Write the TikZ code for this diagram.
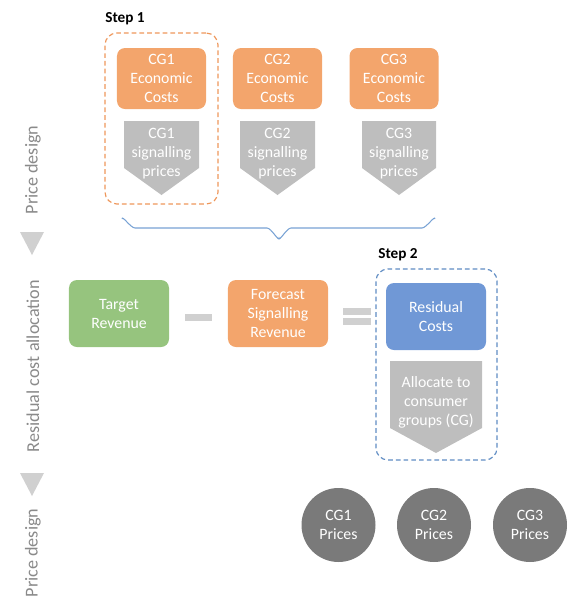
\documentclass[tikz,border=0pt]{standalone}
\usepackage{fontspec}
\setmainfont{Carlito}
\usepackage{xcolor}
\usepackage{tikz}
\usetikzlibrary{positioning,calc,backgrounds}
\pgfdeclarelayer{edgelayer}
\pgfdeclarelayer{nodelayer}
\pgfsetlayers{background,edgelayer,nodelayer,main}
\definecolor{cgorange}{RGB}{243,165,108}
\definecolor{cgframe}{RGB}{238,150,90}
\definecolor{cggreen}{RGB}{150,196,126}
\definecolor{cgblue}{RGB}{112,152,214}
\definecolor{cgbframe}{RGB}{95,140,195}
\definecolor{cgbrace}{RGB}{120,162,212}
\definecolor{sigray}{RGB}{190,190,190}
\definecolor{trigray}{RGB}{208,208,208}
\definecolor{opgray}{RGB}{208,208,208}
\definecolor{dotgray}{RGB}{122,122,122}
\definecolor{stagegray}{RGB}{138,138,138}
\newcommand{\cgfont}{\fontsize{13.5}{16.2}\selectfont}
\newcommand{\cgstagefont}{\fontsize{15.5}{18}\selectfont}
\newcommand{\cgstepfont}{\fontsize{13}{16}\selectfont\bfseries}
\tikzstyle{none}=[inner sep=0mm]
\tikzstyle{box}=[shape=rectangle,rounded corners=0.24cm,minimum width=3.0cm,minimum height=2.01cm,inner sep=0pt,align=center,text=white,font=\cgfont]
\tikzstyle{cost box}=[box,fill=cgorange,minimum width=2.67cm,minimum height=1.83cm]
\tikzstyle{target box}=[box,fill=cggreen]
\tikzstyle{forecast box}=[box,fill=cgorange]
\tikzstyle{residual box}=[box,fill=cgblue]
\tikzstyle{signal text}=[inner sep=0pt,align=center,text=white,font=\cgfont]
\tikzstyle{signal fill}=[fill=sigray]
\tikzstyle{price dot}=[shape=circle,fill=dotgray,minimum size=2.22cm,inner sep=0pt,align=center,text=white,font=\cgfont]
\tikzstyle{step frame}=[shape=rectangle,rounded corners=0.36cm,dash pattern=on 4pt off 2.6pt,line width=1pt,inner sep=0pt]
\tikzstyle{stage label}=[rotate=90,inner sep=0pt,text=stagegray,font=\cgstagefont]
\tikzstyle{stage arrow}=[fill=trigray]
\tikzstyle{op bar}=[shape=rectangle,fill=opgray,inner sep=0pt,minimum width=0.83cm,minimum height=0.22cm]
\tikzstyle{step label}=[inner sep=0pt,font=\cgstepfont]
\tikzstyle{brace line}=[draw=cgbrace,line width=0.9pt]

\begin{document}
\begin{tikzpicture}[x=0.03cm,y=-0.03cm]
	\useasboundingbox (0,0) rectangle (581,606);
	\begin{pgfonlayer}{nodelayer}
		% stages
		\node [style=stage label] (stage1) at (33,170) {Price design};
		\node [style=stage label] (stage2) at (33,366) {Residual cost allocation};
		\node [style=stage label] (stage3) at (33,553) {Price design};
		% step 1
		\node [style=step label] (step1) at (125,19) {Step 1};
		\node [style=step frame,draw=cgframe,minimum width=3.39cm,minimum height=5.13cm] (frame1) at (161.5,118.5) {};
		\node [style=cost box] (cost1) at (161.5,78.5) {CG1\\Economic\\Costs};
		\node [style=cost box] (cost2) at (277.5,78.5) {CG2\\Economic\\Costs};
		\node [style=cost box] (cost3) at (394,78.5) {CG3\\Economic\\Costs};
		\node [style=signal text] (sig1) at (161.5,154) {CG1\\signalling\\prices};
		\node [style=signal text] (sig2) at (277.5,154) {CG2\\signalling\\prices};
		\node [style=signal text] (sig3) at (399,154) {CG3\\signalling\\prices};
		% residual
		\node [style=target box] (target) at (119,313.5) {Target\\Revenue};
		\node [style=op bar] (minus) at (198.5,317.5) {};
		\node [style=forecast box] (forecast) at (278,313.5) {Forecast\\Signalling\\Revenue};
		\node [style=op bar] (eqtop) at (357,311.5) {};
		\node [style=op bar] (eqbot) at (357,321.5) {};
		% step 2
		\node [style=step label] (step2) at (398,255) {Step 2};
		\node [style=step frame,draw=cgbframe,minimum width=3.63cm,minimum height=5.73cm] (frame2) at (436.5,364.5) {};
		\node [style=residual box] (residual) at (436,316.5) {Residual\\Costs};
		\node [style=signal text] (alloc) at (436,402) {Allocate to\\consumer\\groups (CG)};
		% prices
		\node [style=price dot] (price1) at (338.5,525) {CG1\\Prices};
		\node [style=price dot] (price2) at (434,525) {CG2\\Prices};
		\node [style=price dot] (price3) at (530,525) {CG3\\Prices};
	\end{pgfonlayer}
	\begin{pgfonlayer}{edgelayer}
		\fill [style=stage arrow] (20,232) -- (44,232) -- (32,255) -- cycle;
		\fill [style=stage arrow] (20,473) -- (44,473) -- (32,496) -- cycle;
		\fill [style=signal fill] (124,121) -- (199,121) -- (199,168) -- (161.5,195) -- (124,168) -- cycle;
		\fill [style=signal fill] (240,121) -- (315,121) -- (315,168) -- (277.5,195) -- (240,168) -- cycle;
		\fill [style=signal fill] (362,121) -- (436,121) -- (436,168) -- (399,195) -- (362,168) -- cycle;
		\fill [style=signal fill] (390,361) -- (482,361) -- (482,428) -- (436,453) -- (390,428) -- cycle;
		\draw [style=brace line] (122,219) to [out=90,in=180,looseness=0.7] (135,228) -- (267,228) to [out=0,in=270,looseness=0.7] (279,238) to [out=270,in=180,looseness=0.7] (291,228) -- (422,228) to [out=0,in=90,looseness=0.7] (435,219);
	\end{pgfonlayer}
\end{tikzpicture}
\end{document}
